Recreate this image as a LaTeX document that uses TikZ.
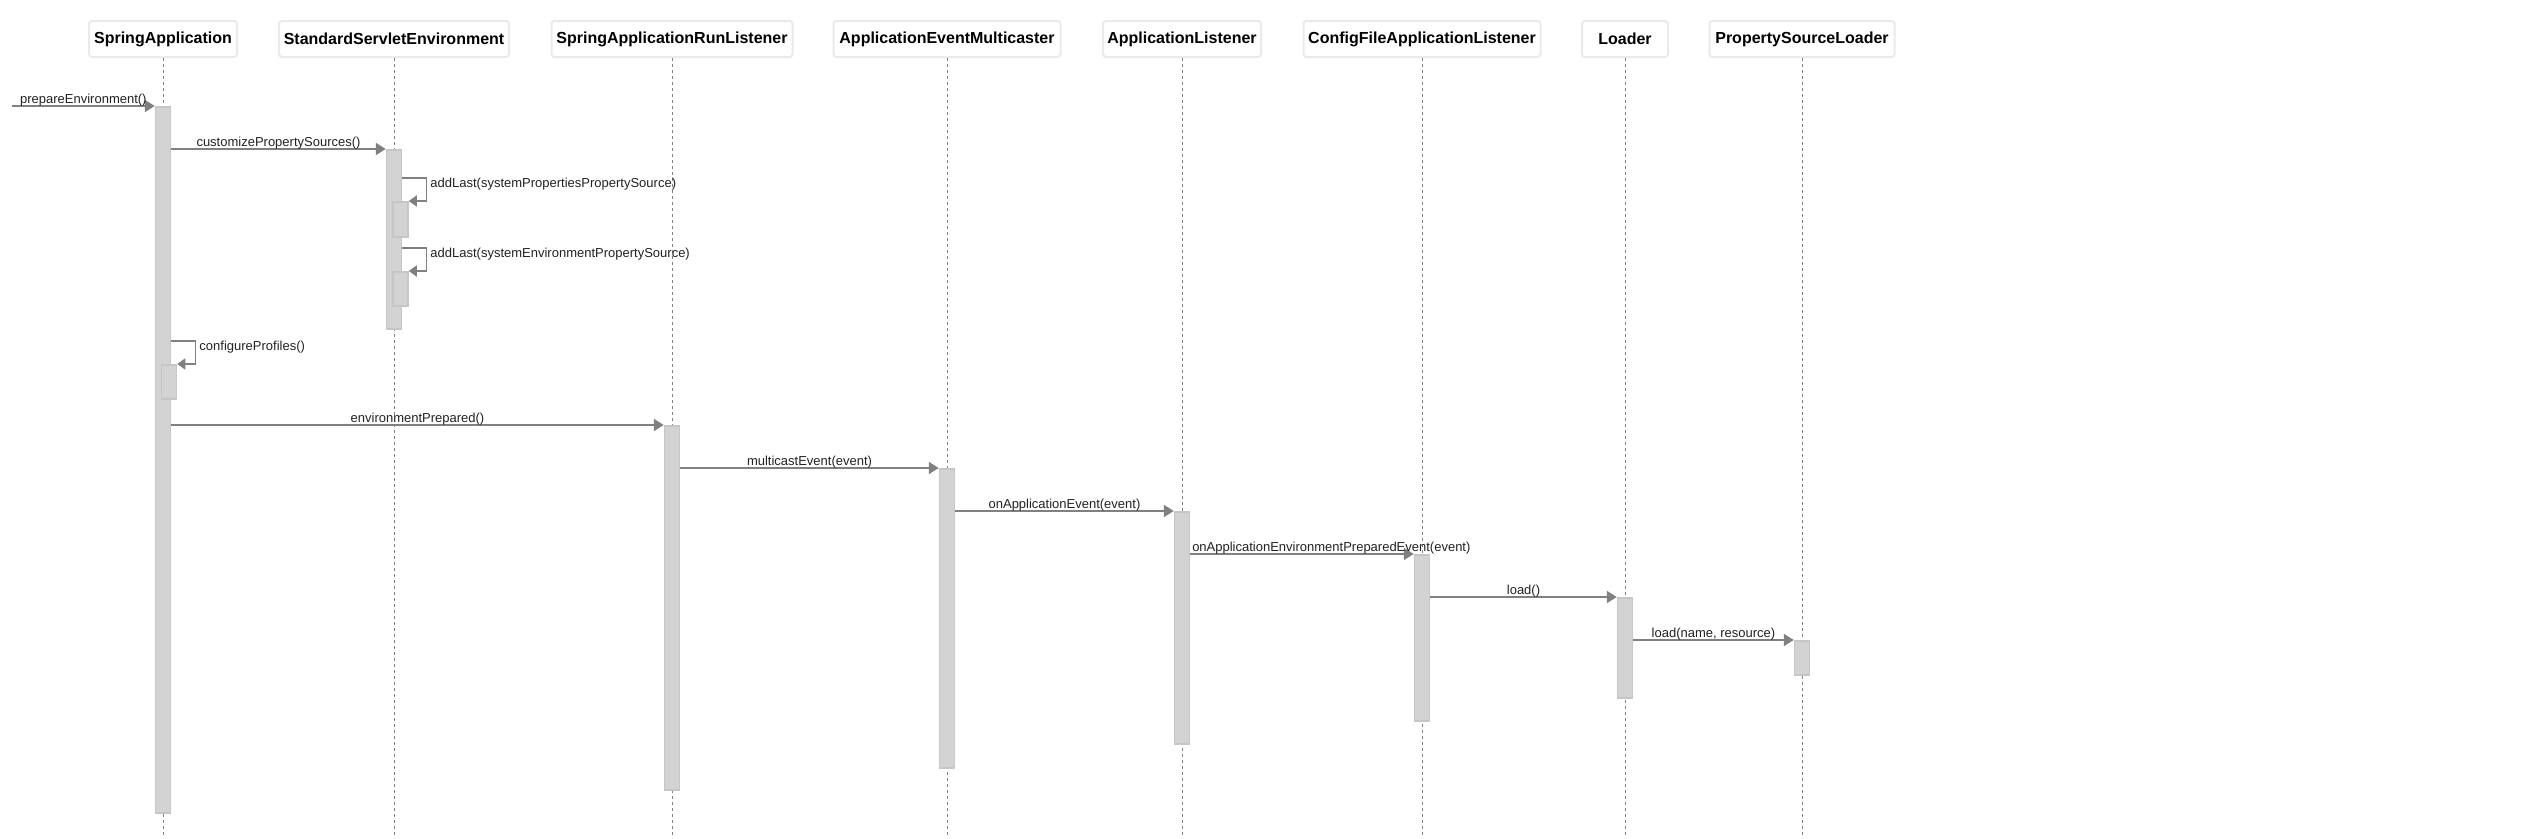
\documentclass[tikz,border=0pt]{standalone}
\usepackage{fontspec}
\setmainfont{Liberation Sans}
\usetikzlibrary{arrows.meta,calc}
\definecolor{arrowgray}{HTML}{808080}
\definecolor{actfill}{HTML}{D3D3D3}
\definecolor{actdraw}{HTML}{C6C6C6}
\definecolor{hdrdraw}{HTML}{EAEAEA}
\definecolor{lifegray}{HTML}{808080}
\definecolor{txt}{HTML}{222222}
\begin{document}
\begin{tikzpicture}[x=1pt,y=-1pt,
  header/.style={draw=hdrdraw, line width=2pt, rounded corners=3pt, fill=white, minimum height=36pt, inner sep=0pt, font=\fontsize{16}{18}\selectfont\bfseries, text=black},
  life/.style={draw=lifegray, line width=1pt, dash pattern=on 3pt off 3pt},
  act/.style={draw=actdraw, fill=actfill, line width=1.5pt, minimum width=15pt, inner sep=0pt, anchor=north},
  msg/.style={draw=arrowgray, line width=2pt, -{Triangle[length=10pt,width=12pt]}},
  selfmsg/.style={draw=arrowgray, line width=1.5pt, -{Triangle[length=8pt,width=11pt]}},
  lbl/.style={font=\fontsize{13}{15}\selectfont, text=txt, inner sep=0pt, anchor=base},
  slbl/.style={lbl, anchor=base west}]

\fill[white] (0,0) rectangle (2526,838);
\useasboundingbox (0,0) rectangle (2526,838);
\coordinate (bot) at (0,838);

% headers
\node[header, minimum width=148pt] (h1) at (163,39) {SpringApplication};
\node[header, minimum width=230pt] (h2) at (394,39) {StandardServletEnvironment};
\node[header, minimum width=241pt] (h3) at (672,39) {SpringApplicationRunListener};
\node[header, minimum width=227pt] (h4) at (947,39) {ApplicationEventMulticaster};
\node[header, minimum width=158pt] (h5) at (1182,39) {ApplicationListener};
\node[header, minimum width=237pt] (h6) at (1422,39) {ConfigFileApplicationListener};
\node[header, minimum width=86pt]  (h7) at (1625,39) {Loader};
\node[header, minimum width=185pt] (h8) at (1802,39) {PropertySourceLoader};

% lifelines
\foreach \h in {h1,h2,h3,h4,h5,h6,h7,h8}
  \draw[life] (\h.south) -- (\h.south |- bot);

% activation bars
\node[act, minimum height=706pt] (a1) at (163,106) {};
\node[act, minimum height=179pt] (a2) at (394,149) {};
\node[act, minimum height=35pt] (a2a) at (400.5,201) {};
\node[act, minimum height=34pt] (a2b) at (400.5,271) {};
\node[act, minimum height=34pt] (a1a) at (169,364) {};
\node[act, minimum height=364pt] (a3) at (672,425) {};
\node[act, minimum height=299pt] (a4) at (947,468) {};
\node[act, minimum height=232pt] (a5) at (1182,511) {};
\node[act, minimum height=166pt] (a6) at (1422,554) {};
\node[act, minimum height=100pt] (a7) at (1625,597) {};
\node[act, minimum height=34pt] (a8) at (1802,640) {};

% messages
\coordinate (s0) at (12,106);
\draw[msg] (s0) -- node[lbl, yshift=3pt] {prepareEnvironment()} (a1.north west);
\draw[msg] (a1.east |- a2.north) -- node[lbl, yshift=3pt] {customizePropertySources()} (a2.north west);

\draw[selfmsg] ($(a2a.north -| a2.east)+(0,-23)$) -- ++(24,0) |- (a2a.north east);
\node[slbl] (l1) at ($(a2a.north -| a2.east)+(28,-14)$) {addLast(systemPropertiesPropertySource)};
\draw[selfmsg] ($(a2b.north -| a2.east)+(0,-23)$) -- ++(24,0) |- (a2b.north east);
\node[slbl] (l2) at ($(a2b.north -| a2.east)+(28,-14)$) {addLast(systemEnvironmentPropertySource)};

\draw[selfmsg] ($(a1a.north -| a1.east)+(0,-23)$) -- ++(24,0) |- (a1a.north east);
\node[slbl] (l3) at ($(a1a.north -| a1.east)+(28,-14)$) {configureProfiles()};

\draw[msg] (a1.east |- a3.north) -- node[lbl, yshift=3pt] {environmentPrepared()} (a3.north west);
\draw[msg] (a3.east |- a4.north) -- node[lbl, yshift=3pt] {multicastEvent(event)} (a4.north west);
\draw[msg] (a4.east |- a5.north) -- node[lbl, yshift=3pt] {onApplicationEvent(event)} (a5.north west);
\draw[msg] (a5.east |- a6.north) -- node[pos=0, slbl, yshift=3pt, xshift=1pt] {onApplicationEnvironmentPreparedEvent(event)} (a6.north west);
\draw[msg] (a6.east |- a7.north) -- node[lbl, yshift=3pt] {load()} (a7.north west);
\draw[msg] (a7.east |- a8.north) -- node[lbl, yshift=3pt] {load(name, resource)} (a8.north west);
\end{tikzpicture}
\end{document}
